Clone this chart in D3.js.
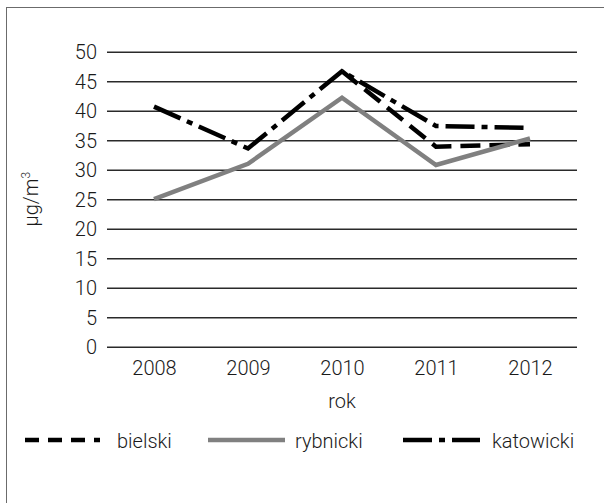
<!DOCTYPE html>
<html>
<head>
<meta charset="utf-8">
<script src="https://cdn.jsdelivr.net/npm/d3@7/dist/d3.min.js"></script>
<style>
  html, body { margin: 0; padding: 0; background: #fff; }
  svg { display: block; }
  text { font-family: Roboto, "Liberation Sans", Arial, sans-serif; font-weight: 300; fill: #1a1a1a; }
</style>
</head>
<body>
<svg id="chart" width="604" height="503"></svg>
<script>
// Average annual concentration by district (µg/m³); null = no measurement
const years = ["2008", "2009", "2010", "2011", "2012"];
const bielski = [null, null, 46.7, 33.9, 34.3];
const rybnicki = [25.0, 31.0, 42.2, 30.8, 35.3];
const katowicki = [40.7, 33.6, 46.7, 37.4, 37.1];
const yTicks = [0, 5, 10, 15, 20, 25, 30, 35, 40, 45, 50];

const series = [
  { name: "bielski", values: bielski, color: "#000", width: 4.5, dash: "20,9", legendDash: "14,9" },
  { name: "rybnicki", values: rybnicki, color: "#808080", width: 4.5, dash: null, legendDash: null },
  { name: "katowicki", values: katowicki, color: "#000", width: 4.5, dash: "29,7,6,7", legendDash: "29,7,6,7" }
];

const svg = d3.select("#chart");
const plot = { left: 107, right: 577, top: 51.7, bottom: 346.7 };

// Outer frame
svg.append("rect")
  .attr("x", 6.5).attr("y", 7.5)
  .attr("width", 700).attr("height", 700)
  .attr("fill", "none").attr("stroke", "#6b6b6b").attr("stroke-width", 1);

const x = d3.scalePoint().domain(years).range([plot.left, plot.right]).padding(0.5);
const y = d3.scaleLinear().domain([0, 50]).range([plot.bottom, plot.top]);

// Horizontal gridlines with value labels
const yAxis = d3.axisLeft(y)
  .tickValues(yTicks)
  .tickSize(-(plot.right - plot.left))
  .tickPadding(10)
  .tickFormat(d3.format("d"));

const gy = svg.append("g")
  .attr("transform", `translate(${plot.left},0)`)
  .call(yAxis);
gy.select(".domain").remove();
gy.selectAll(".tick line").attr("stroke", "#2a2a2a").attr("stroke-width", 1.6);
gy.selectAll(".tick text")
  .attr("font-size", 20).attr("fill", "#1a1a1a")
  .attr("x", -10).attr("dy", "0.36em");

// Category labels
const xAxis = d3.axisBottom(x).tickSize(0).tickPadding(14);
const gx = svg.append("g")
  .attr("transform", `translate(0,${plot.bottom})`)
  .call(xAxis);
gx.select(".domain").remove();
gx.selectAll(".tick text").attr("font-size", 20).attr("fill", "#1a1a1a");

// Axis titles
svg.append("text")
  .attr("x", (plot.left + plot.right) / 2).attr("y", 408)
  .attr("text-anchor", "middle").attr("font-size", 20)
  .text("rok");

const yTitle = svg.append("text")
  .attr("transform", `translate(38,${(plot.top + plot.bottom) / 2}) rotate(-90)`)
  .attr("text-anchor", "middle").attr("font-size", 20);
yTitle.append("tspan").text("µg/m");
yTitle.append("tspan").attr("font-size", 12).attr("dy", "-0.7em").text("3");

// Series lines (gaps where there is no value)
const line = d3.line()
  .defined(d => d != null)
  .x((d, i) => x(years[i]))
  .y(d => y(d));

series.forEach(s => {
  svg.append("path")
    .datum(s.values)
    .attr("d", line)
    .attr("fill", "none")
    .attr("stroke", s.color)
    .attr("stroke-width", s.width)
    .attr("stroke-linejoin", "miter")
    .attr("stroke-dasharray", s.dash);
});

// Legend
const legendItems = [
  { s: series[0], x0: 25, x1: 100, tx: 117 },
  { s: series[1], x0: 208, x1: 285, tx: 295 },
  { s: series[2], x0: 403, x1: 480, tx: 492 }
];
const ly = 440;
legendItems.forEach(it => {
  svg.append("line")
    .attr("x1", it.x0).attr("x2", it.x1)
    .attr("y1", ly).attr("y2", ly)
    .attr("stroke", it.s.color)
    .attr("stroke-width", it.s.width)
    .attr("stroke-dasharray", it.s.legendDash);
  svg.append("text")
    .attr("x", it.tx).attr("y", 448)
    .attr("font-size", 20)
    .text(it.s.name);
});
</script>
</body>
</html>
